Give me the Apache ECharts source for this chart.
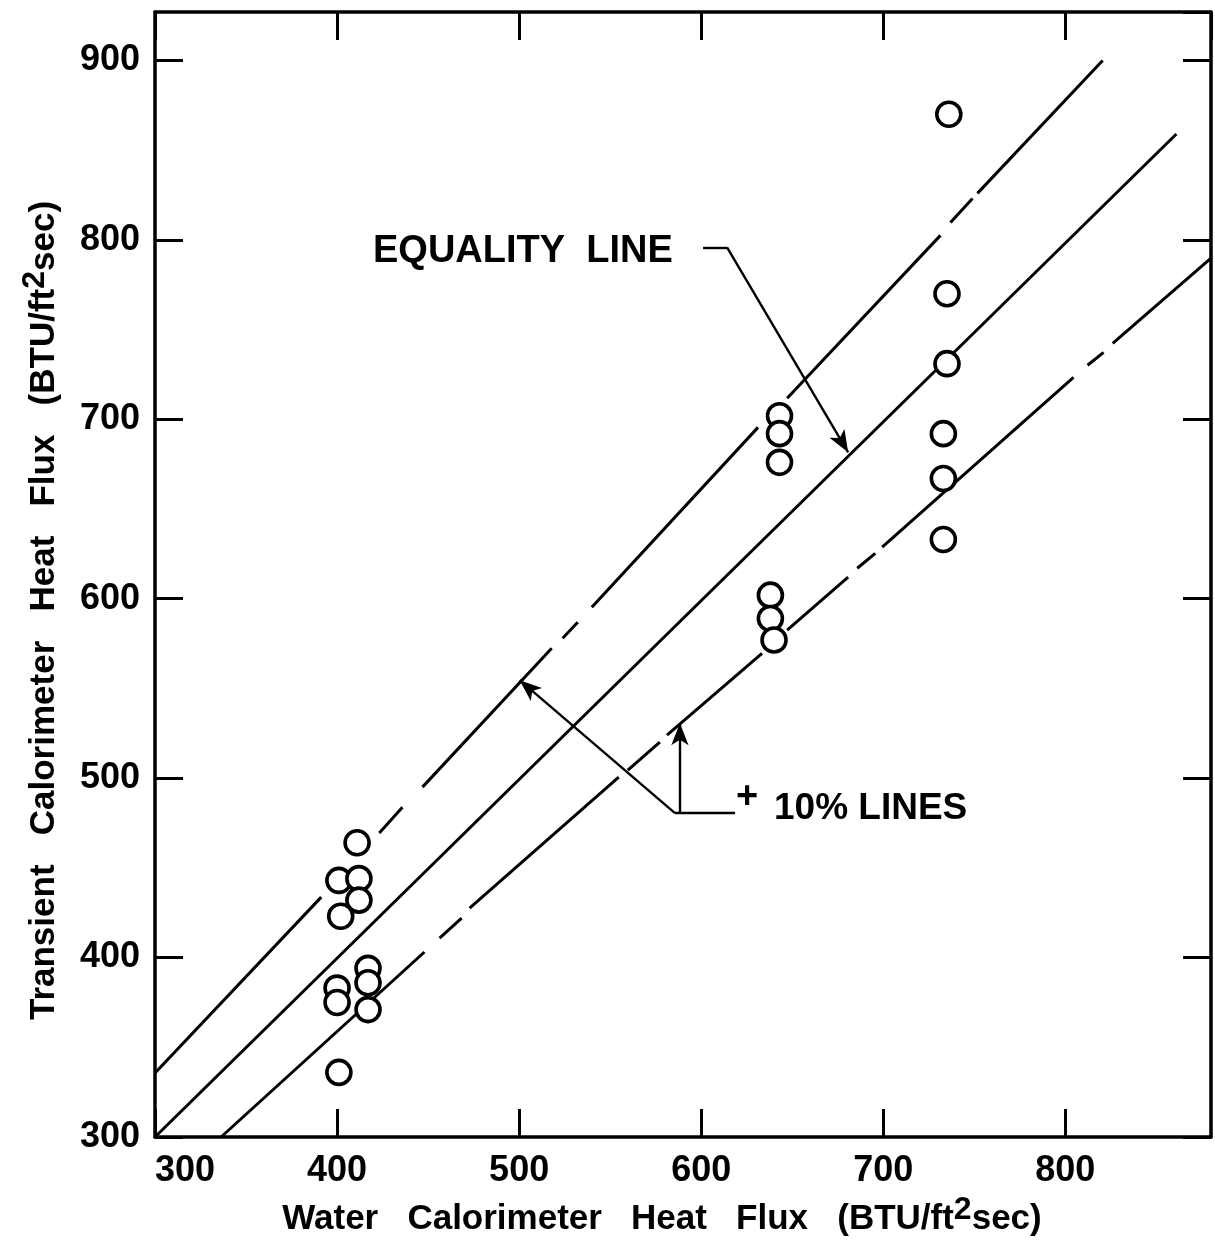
<!DOCTYPE html>
<html>
<head>
<meta charset="utf-8">
<script src="https://cdn.jsdelivr.net/npm/echarts@6/dist/echarts.min.js"></script>
<style>
html,body{margin:0;padding:0;background:#fff;}
#chart{width:1215px;height:1241px;}
</style>
</head>
<body>
<div id="chart"></div>
<script>
// ---- data ----
const waterFlux     = [411, 401, 412, 412, 402, 417, 417, 400, 400, 417, 401, 643, 643, 643, 638, 638, 640, 736, 735, 735, 733, 733, 733];
const transientFlux = [464, 443, 444, 432, 423, 394, 386, 383, 375, 371, 336, 702, 692, 676, 602, 589, 577, 870, 770, 731, 692, 667, 633];

const xTickValues = [300, 400, 500, 600, 700, 800];
const yTickValues = [300, 400, 500, 600, 700, 800, 900];

// equality line (y = x)
const equalityLine = [[300, 300], [861, 859]];
// +10% line, drawn in pieces (gaps as in the original drawing)
const upperLineSegments = [
  [[300, 335.7], [391.3, 433.7]],
  [[423.2, 469.4], [435.9, 483.8]],
  [[446.9, 495.0], [517.9, 572.4]],
  [[523.9, 578.0], [532.2, 586.9]],
  [[539.9, 595.3], [631.2, 695.5]],
  [[647.2, 711.7], [731.4, 802.5]],
  [[736.9, 809.7], [749.0, 823.1]],
  [[751.7, 825.9], [820.5, 900.0]]
];
// -10% line pieces
const lowerLineSegments = [
  [[336.3, 300.0], [448.0, 403.1]],
  [[456.3, 410.9], [468.4, 422.0]],
  [[472.8, 427.6], [554.7, 500.6]],
  [[559.7, 504.5], [577.3, 520.1]],
  [[581.2, 524.0], [633.4, 569.6]],
  [[647.2, 582.5], [680.7, 612.0]],
  [[685.7, 617.0], [695.6, 625.3]],
  [[699.4, 628.7], [804.5, 723.4]],
  [[812.2, 730.1], [821.0, 737.3]],
  [[826.0, 742.3], [880.5, 790.3]]
];
// annotation leaders (data coordinates)
const equalityLeader = [[601.0, 795.8], [614.2, 795.8], [680.7, 681.6]];
const tenPctLeaderH = [[618.6, 480.5], [585.6, 480.5]];
const tenPctArrowUpper = [[585.6, 480.5], [500.3, 554.6]];
const tenPctArrowLower = [[588.3, 480.5], [588.3, 530.6]];

const xTitle = 'Water   Calorimeter   Heat   Flux   (BTU/ft{sup|2}sec)';
const yTitle = 'Transient   Calorimeter   Heat   Flux   (BTU/ft{sup|2}sec)';
const equalityText = 'EQUALITY  LINE';
const tenPctText = '10% LINES';
const plusText = '+';

// ---- chart ----
const FONT = '"Liberation Sans", Arial, sans-serif';
const BLACK = '#000';
const chart = echarts.init(document.getElementById('chart'), null, {renderer: 'canvas'});

const titleRich = {
  sup: {fontSize: 32, fontWeight: 'bold', fontFamily: FONT, color: BLACK, lineHeight: 22, verticalAlign: 'top'}
};

const series = [];
series.push({
  type: 'line', data: equalityLine, symbol: 'none', silent: true, z: 2,
  lineStyle: {color: BLACK, width: 3}
});
upperLineSegments.concat(lowerLineSegments).forEach(seg => {
  series.push({
    type: 'line', data: seg, symbol: 'none', silent: true, z: 2,
    lineStyle: {color: BLACK, width: 3}
  });
});

function seg(a, b, arrow) {
  return [
    {coord: a, symbol: 'none'},
    {coord: b, symbol: arrow ? 'arrow' : 'none', symbolSize: arrow ? [13, 22] : 0}
  ];
}
series.push({
  type: 'line', data: [], symbol: 'none', silent: true, z: 3,
  markLine: {
    silent: true, animation: false,
    label: {show: false},
    lineStyle: {color: BLACK, width: 2.4, type: 'solid'},
    data: [
      seg(equalityLeader[0], equalityLeader[1], false),
      seg(equalityLeader[1], equalityLeader[2], true),
      seg(tenPctLeaderH[0], tenPctLeaderH[1], false),
      seg(tenPctArrowUpper[0], tenPctArrowUpper[1], true),
      seg(tenPctArrowLower[0], tenPctArrowLower[1], true)
    ]
  }
});
series.push({
  type: 'scatter', z: 5, silent: true,
  data: waterFlux.map((x, i) => [x, transientFlux[i]]),
  symbol: 'circle', symbolSize: 24,
  itemStyle: {color: '#fff', borderColor: BLACK, borderWidth: 3.6, opacity: 1}
});

const tickFmt = (vals) => (v) => (vals.indexOf(Math.round(v)) >= 0 && Math.abs(v - Math.round(v)) < 1e-6) ? String(v) : '';

chart.setOption({
  animation: false,
  backgroundColor: '#fff',
  grid: {left: 155, right: 4, top: 12, bottom: 104, containLabel: false, outerBoundsMode: 'none'},
  xAxis: [{
    type: 'value', min: 300, max: 880, interval: 100, position: 'bottom',
    axisLine: {show: true, lineStyle: {color: BLACK, width: 3.5}},
    axisTick: {show: true, inside: true, length: 28, lineStyle: {color: BLACK, width: 3}},
    axisLabel: {show: true, color: BLACK, fontSize: 36, fontWeight: 'bold', fontFamily: FONT, margin: 16,
      alignMinLabel: 'left', showMaxLabel: false, formatter: tickFmt(xTickValues)},
    splitLine: {show: false},
    name: xTitle, nameLocation: 'middle', nameGap: 54,
    nameTextStyle: {color: BLACK, fontSize: 35, fontWeight: 'bold', fontFamily: FONT, lineHeight: 50,
      padding: [0, 42, 0, 0], rich: titleRich}
  }, {
    type: 'value', min: 300, max: 880, interval: 100, position: 'top',
    axisLine: {show: true, lineStyle: {color: BLACK, width: 3.5}},
    axisTick: {show: true, inside: true, length: 28, lineStyle: {color: BLACK, width: 3}},
    axisLabel: {show: false}, splitLine: {show: false}
  }],
  yAxis: [{
    type: 'value', min: 300, max: 927, interval: 100, position: 'left',
    axisLine: {show: true, lineStyle: {color: BLACK, width: 3.5}},
    axisTick: {show: true, inside: true, length: 28, lineStyle: {color: BLACK, width: 3}},
    axisLabel: {show: true, color: BLACK, fontSize: 36, fontWeight: 'bold', fontFamily: FONT, margin: 15,
      showMaxLabel: false, formatter: tickFmt(yTickValues)},
    splitLine: {show: false},
    name: yTitle, nameLocation: 'middle', nameGap: 86, nameRotate: 90,
    nameTextStyle: {color: BLACK, fontSize: 35, fontWeight: 'bold', fontFamily: FONT, lineHeight: 50,
      padding: [0, 72, 0, 0], rich: titleRich}
  }, {
    type: 'value', min: 300, max: 927, interval: 100, position: 'right',
    axisLine: {show: true, lineStyle: {color: BLACK, width: 3.5}},
    axisTick: {show: true, inside: true, length: 28, lineStyle: {color: BLACK, width: 3}},
    axisLabel: {show: false}, splitLine: {show: false}
  }],
  graphic: [
    {type: 'text', x: 373, y: 252, silent: true,
      style: {text: equalityText, fill: BLACK, font: 'bold 38px ' + FONT, textAlign: 'left', textVerticalAlign: 'middle'}},
    {type: 'text', x: 736, y: 798, silent: true,
      style: {text: plusText, fill: BLACK, font: 'bold 38px ' + FONT, textAlign: 'left', textVerticalAlign: 'middle'}},
    {type: 'text', x: 774, y: 809, silent: true,
      style: {text: tenPctText, fill: BLACK, font: 'bold 37px ' + FONT, textAlign: 'left', textVerticalAlign: 'middle'}}
  ],
  series: series
});
</script>
</body>
</html>
